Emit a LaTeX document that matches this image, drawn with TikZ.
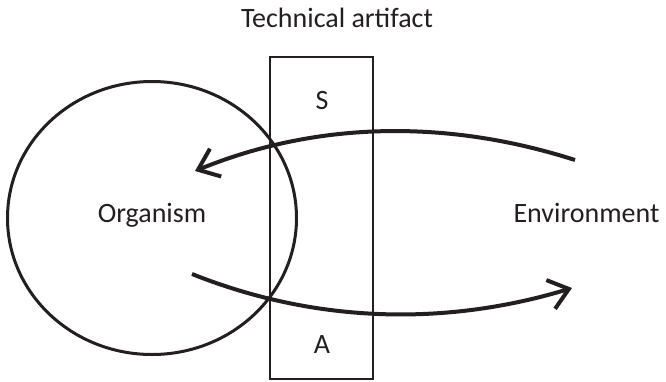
\documentclass[tikz,border=0pt]{standalone}
\usepackage{fontspec}
\setmainfont{Carlito}
\usepackage{tikz}
\usetikzlibrary{shapes.geometric,arrows.meta}
\definecolor{ink}{HTML}{231F20}
\tikzstyle{flow} = [draw=ink, line width=4pt, -{Straight Barb[length=19pt,width=30pt]}]
\tikzstyle{outline} = [draw=ink, inner sep=0pt]

\begin{document}
\begin{tikzpicture}[x=1pt, y=-1pt, every node/.style={font=\fontsize{28}{33}\selectfont, text=ink}]
		\useasboundingbox (0,0) rectangle (666,381);

		\node (org) [outline, ellipse, line width=3pt, minimum width=289pt, minimum height=273pt] at (152,218) {};
		\node (orgname) [anchor=base] at (152,222) {Organism};
		\node (art) [outline, line width=2.7pt, minimum width=103pt, minimum height=322pt] at (321.5,218) {};
		\node (artname) [anchor=base] at (337,27) {Technical artifact};
		\node (sens) [anchor=base] at (322,109) {S};
		\node (act) [anchor=base] at (322,353) {A};
		\node (env) [anchor=base east] at (663,222) {Environment};

		\coordinate (envout) at (575,160);
		\coordinate (orgin) at (195,171);
		\coordinate (orgout) at (192,274);
		\coordinate (envin) at (572,288);

		\draw [flow] (envout) .. controls (450,120) and (320,120) .. (orgin);
		\draw [flow] (orgout) .. controls (320,325) and (450,325) .. (envin);
	\end{tikzpicture}
\end{document}
